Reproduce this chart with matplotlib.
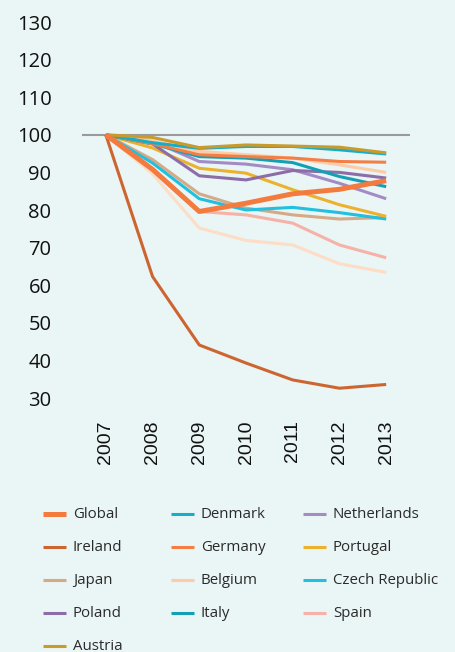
import matplotlib
matplotlib.use("Agg")
import matplotlib.pyplot as plt
from matplotlib.lines import Line2D

years = [2007, 2008, 2009, 2010, 2011, 2012, 2013]
ytick_values = [30, 40, 50, 60, 70, 80, 90, 100, 110, 120, 130]

global_vals      = [100, 90.8, 79.6, 81.8, 84.3, 85.5, 87.8]
ireland          = [100, 62.3, 44.1, 39.3, 34.8, 32.6, 33.6]
japan            = [100, 93.4, 84.3, 80.5, 78.7, 77.6, 78.0]
poland           = [100, 97.6, 89.1, 88.0, 90.5, 90.0, 88.5]
austria          = [100, 99.3, 96.6, 97.3, 97.0, 96.7, 95.2]
denmark          = [100, 97.9, 96.4, 96.9, 96.9, 96.0, 94.9]
germany          = [100, 97.6, 94.7, 94.2, 93.8, 92.9, 92.7]
belgium          = [100, 98.4, 95.6, 94.7, 93.8, 92.0, 90.0]
italy            = [100, 97.6, 94.2, 93.8, 92.6, 88.9, 86.2]
netherlands      = [100, 98.3, 92.9, 92.2, 90.7, 87.1, 83.0]
portugal         = [100, 96.5, 91.1, 89.8, 85.4, 81.4, 78.3]
czech            = [100, 92.5, 83.0, 80.0, 80.7, 79.3, 77.6]
spain            = [100, 91.0, 79.6, 78.7, 76.5, 70.7, 67.3]
unlabelled       = [100, 89.6, 75.2, 71.9, 70.7, 65.7, 63.4]

series = [
    ("_unlabelled", unlabelled, "#FDDDC6", 2.2),
    ("Spain", spain, "#F6B2A6", 2.2),
    ("Japan", japan, "#D4AA87", 2.2),
    ("Czech Republic", czech, "#22BFDF", 2.2),
    ("Portugal", portugal, "#ECB22E", 2.2),
    ("Netherlands", netherlands, "#A38BC6", 2.2),
    ("Poland", poland, "#8C6DA8", 2.2),
    ("Italy", italy, "#14A0B4", 2.2),
    ("Belgium", belgium, "#FDCBA6", 2.2),
    ("Germany", germany, "#F47F45", 2.2),
    ("Denmark", denmark, "#14AECA", 2.2),
    ("Austria", austria, "#C99A2C", 2.2),
    ("Ireland", ireland, "#CD6530", 2.2),
    ("Global", global_vals, "#F47B3E", 3.6),
]

legend_order = ["Global", "Denmark", "Netherlands",
                "Ireland", "Germany", "Portugal",
                "Japan", "Belgium", "Czech Republic",
                "Poland", "Italy", "Spain",
                "Austria"]

bg = "#EAF5F5"
W, H = 455, 652
fig = plt.figure(figsize=(W / 100, H / 100), dpi=100, facecolor=bg)
ax = fig.add_axes([82 / W, 1 - 398 / H, (410 - 82) / W, (398 - 22) / H], facecolor=bg)

ax.axhline(100, color="#9A9A9A", lw=1.5, zorder=1)
styles = {}
for name, vals, color, lw in series:
    ax.plot(years, vals, color=color, lw=lw, solid_capstyle="butt", zorder=2)
    styles[name] = (color, lw)

ax.set_xlim(2006.49, 2013.51)
ax.set_ylim(30, 130)
ax.set_yticks(ytick_values)
ax.set_yticklabels([str(v) for v in ytick_values], fontfamily="Open Sans", fontsize=14.5, color="#111111")
ax.set_xticks(years)
ax.set_xticklabels([str(y) for y in years], rotation=90, fontfamily="Liberation Sans", fontsize=14, color="#111111")
ax.tick_params(axis="y", length=0, pad=22)
ax.tick_params(axis="x", length=0, pad=16)
for s in ax.spines.values():
    s.set_visible(False)

col_x = [43, 171, 303]
row_y0, row_dy = 513.5, 33
for i, name in enumerate(legend_order):
    r, c = divmod(i, 3)
    color, lw = styles[name]
    x0 = col_x[c]
    y = row_y0 + r * row_dy
    fig.add_artist(Line2D([x0 / W, (x0 + 23) / W], [1 - y / H, 1 - y / H],
                          color=color, lw=lw, solid_capstyle="butt", transform=fig.transFigure))
    fig.text((x0 + 30) / W, 1 - (y + 1) / H, name, fontfamily="Open Sans", fontsize=10.8,
             color="#2a2a2a", va="center", ha="left")

fig.savefig("out.png", dpi=100, facecolor=bg)
